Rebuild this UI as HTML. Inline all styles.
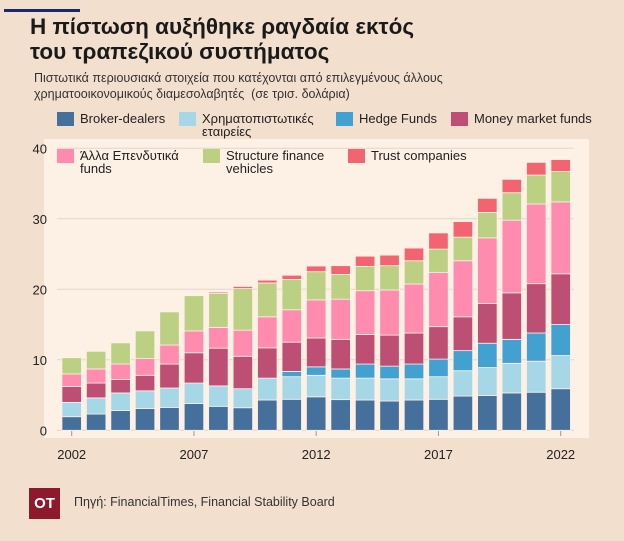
<!DOCTYPE html>
<html><head><meta charset="utf-8">
<style>
body{margin:0;width:624px;height:541px;background:#f3dfce;font-family:"Liberation Sans","DejaVu Sans",sans-serif;overflow:hidden;position:relative;color:#1a1a1a}
.abs{position:absolute}
</style></head>
<body>
<div class="abs" style="left:4px;top:9px;width:76px;height:3px;background:#1b2a6b"></div>
<div class="abs" style="left:30px;top:14px;font-size:22.5px;font-weight:bold;line-height:25px;letter-spacing:0px">Η πίστωση αυξήθηκε ραγδαία εκτός<br>του τραπεζικού συστήματος</div>
<div class="abs" style="left:34px;top:70px;font-size:12.5px;line-height:16px;color:#333">Πιστωτικά περιουσιακά στοιχεία που κατέχονται από επιλεγμένους άλλους<br>χρηματοοικονομικούς διαμεσολαβητές &nbsp;(σε τρισ. δολάρια)</div>
<svg class="abs" style="left:0;top:0" width="624" height="541" id="chart"></svg>
<div class="abs" style="left:29px;top:488px;width:31px;height:31px;background:#8c1a2c;color:#fff;font-weight:bold;font-size:15px;line-height:31px;text-align:center">OT</div>
<div class="abs" style="left:74px;top:495px;font-size:12.5px;color:#333">Πηγή: FinancialTimes, Financial Stability Board</div>
<script>
const years=[2002,2003,2004,2005,2006,2007,2008,2009,2010,2011,2012,2013,2014,2015,2016,2017,2018,2019,2020,2021,2022];
const brokerDealers=[1.93,2.3,2.8,3.1,3.25,3.8,3.4,3.2,4.3,4.4,4.75,4.35,4.3,4.15,4.3,4.4,4.85,4.95,5.3,5.4,5.9];
const financeCompanies=[2.03,2.3,2.5,2.5,2.75,2.9,2.9,2.7,3.1,3.2,3.05,3.05,3.1,3.15,3.0,3.2,3.6,3.95,4.2,4.4,4.7];
const hedgeFunds=[0,0,0,0,0,0,0,0,0,0.75,1.2,1.3,2.0,1.8,2.1,2.5,2.85,3.45,3.4,4.0,4.4];
const moneyMarketFunds=[2.24,2.1,1.9,2.2,3.4,4.3,5.35,4.6,4.3,4.15,4.1,4.2,4.2,4.4,4.4,4.6,4.8,5.65,6.6,7.0,7.2];
const otherFunds=[1.8,2.0,2.2,2.4,2.7,3.1,2.95,3.7,4.4,4.6,5.4,5.7,6.2,6.4,6.95,7.7,7.95,9.3,10.3,11.3,10.2];
const structuredFinance=[2.3,2.5,3.0,3.9,4.7,5.0,4.8,5.9,4.8,4.3,4.0,3.5,3.45,3.45,3.3,3.3,3.35,3.6,3.9,4.1,4.3];
const trustCompanies=[0,0,0,0,0,0,0.2,0.3,0.4,0.6,0.8,1.25,1.45,1.5,1.8,2.3,2.2,2.0,1.9,1.8,1.7];
const yTicks=[0,10,20,30,40];
const xTickYears=[2002,2007,2012,2017,2022];
const seriesNames=["Broker-dealers","Χρηματοπιστωτικές εταιρείες","Hedge Funds","Money market funds","Άλλα Επενδυτικά funds","Structure finance vehicles","Trust companies"];
const seriesKeys=["broker-dealers","finance-companies","hedge-funds","money-market-funds","other-investment-funds","structured-finance-vehicles","trust-companies"];
const seriesData=[brokerDealers,financeCompanies,hedgeFunds,moneyMarketFunds,otherFunds,structuredFinance,trustCompanies];
const colors=["#45709c","#a6d7e6","#43a1d1","#bd4f74","#ff8bae","#bcd083","#f2646f"];

const NS="http://www.w3.org/2000/svg";
const svg=document.getElementById('chart');
function mk(t,a){const e=document.createElementNS(NS,t);for(const k in a)e.setAttribute(k,a[k]);svg.appendChild(e);return e;}
const y0=430.3,pxPer=7.05;
const yScale=v=>y0-v*pxPer;
const x0=71.7,step=24.45,bw=19.5;
const xScale=i=>x0+i*step;

const panel=mk('rect',{x:44,y:139,width:545,height:299,fill:'#fdf0e5'});


yTicks.forEach(t=>{
  const g=mk('line',{x1:57,x2:574,y1:yScale(t),y2:yScale(t),stroke:'#e3d6cb','stroke-width':1});
  
  
  const l=mk('text',{x:47,y:yScale(t)+5,'text-anchor':'end','font-size':13,fill:'#222','font-family':'Liberation Sans, sans-serif'});
  l.textContent=t;
  
  
});
years.forEach((yr,i)=>{
  let base=0;
  seriesData.forEach((s,k)=>{
    const v=s[i];
    if(v>0){
      const r=mk('rect',{x:xScale(i)-bw/2,y:yScale(base+v),width:bw,height:v*pxPer,fill:colors[k],stroke:'#fdf0e5','stroke-width':0.8});
      
      
    }
    base+=v;
  });
});
xTickYears.forEach(yr=>{
  const i=years.indexOf(yr);
  const tk=mk('line',{x1:xScale(i),x2:xScale(i),y1:431,y2:436,stroke:'#999','stroke-width':1});
  
  
  const l=mk('text',{x:xScale(i),y:459,'text-anchor':'middle','font-size':13,fill:'#222','font-family':'Liberation Sans, sans-serif'});
  l.textContent=yr;
  
  
});
// legend
const legendPos=[[57,112],[179,112],[336,112],[451,112],[57,149],[203,149],[348,149]];
seriesNames.forEach((n,k)=>{
  const [lx,ly]=legendPos[k];
  const sw=mk('rect',{x:lx,y:ly,width:17,height:14,fill:colors[k]});
  
  
  const t=mk('text',{x:lx+23,y:ly+11,'font-size':13,fill:'#222','font-family':'Liberation Sans, sans-serif'});
  
  
  const parts={1:["Χρηματοπιστωτικές","εταιρείες"],4:["Άλλα Επενδυτικά","funds"],5:["Structure finance","vehicles"]}[k]||[n];
  parts.forEach((p,j)=>{const ts=document.createElementNS(NS,'tspan');ts.setAttribute('x',lx+23);ts.setAttribute('dy',j?13:0);ts.textContent=p;t.appendChild(ts);});
});
</script>
</body></html>
